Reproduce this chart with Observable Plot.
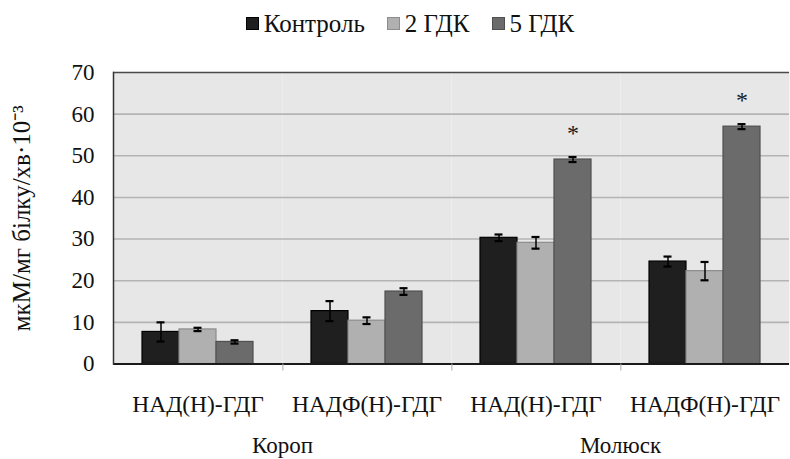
<!DOCTYPE html>
<html><head><meta charset="utf-8">
<script src="https://cdn.jsdelivr.net/npm/d3@7"></script>
<script src="https://cdn.jsdelivr.net/npm/@observablehq/plot@0.6"></script>
<style>
body{margin:0;background:#fff;font-family:"Liberation Serif","Times New Roman",serif;color:#111;}
#legend{height:45px;display:flex;justify-content:center;align-items:center;gap:22px;font-size:25px;padding-left:30px;box-sizing:border-box;padding-top:2px;}
#legend span{display:inline-flex;align-items:center;}
.sw{display:inline-block;width:11px;height:11px;margin-right:5px;border:1px solid;}
svg text{font-family:"Liberation Serif","Times New Roman",serif;}
</style></head><body><div id="legend"></div><div id="chart"></div>
<script>
// ---- data ----
const groups = ["Короп", "Короп", "Молюск", "Молюск"];
const enzymes = ["НАД(Н)-ГДГ", "НАДФ(Н)-ГДГ", "НАД(Н)-ГДГ", "НАДФ(Н)-ГДГ"];
const series = ["Контроль", "2 ГДК", "5 ГДК"];
const control = [7.7, 12.7, 30.3, 24.6];
const gdk2 = [8.3, 10.4, 29.1, 22.3];
const gdk5 = [5.3, 17.4, 49.1, 57.0];
const errControl = [2.3, 2.4, 0.8, 1.2];
const errGdk2 = [0.4, 0.8, 1.4, 2.2];
const errGdk5 = [0.4, 0.8, 0.6, 0.6];
const starred = [false, false, true, true]; // "*" above 5 ГДК
const yTicks = [0, 10, 20, 30, 40, 50, 60, 70];
const yLabel = "мкМ/мг білку/хв·10⁻³";

const colors = ["#1f1f1f", "#b0b0b0", "#6b6b6b"];
const borders = ["#000000", "#8c8c8c", "#4f4f4f"];

// ---- tables ----
const keys = enzymes.map((e, i) => groups[i] + " · " + e + " · " + i);
const values = [control, gdk2, gdk5];
const errs = [errControl, errGdk2, errGdk5];
const rows = keys.flatMap((k, i) => series.map((s, j) => ({
  cat: k, series: s, value: values[j][i], err: errs[j][i]
})));
const stars = rows.filter(d => d.series === "5 ГДК" && starred[keys.indexOf(d.cat)]);
const groupLabels = [];
groups.forEach((g, i) => { if (i === groups.indexOf(g)) groupLabels.push({cat: keys[i], label: g}); });
const enzymeOf = Object.fromEntries(keys.map((k, i) => [k, enzymes[i]]));
const boundaries = keys.slice(0, -1).map(k => ({cat: k}));

// ---- legend ----
const leg = document.getElementById("legend");
series.forEach((s, j) => {
  const sp = document.createElement("span");
  sp.innerHTML = `<i class="sw" style="background:${colors[j]};border-color:${borders[j]}"></i>${s}`;
  leg.appendChild(sp);
});

// ---- chart ----
const FONT = '"Liberation Serif", "Times New Roman", serif';
const W = 790, H = 414, mT = 27, mB = 95.5, mL = 111, mR = 0;
const facetHalf = (W - mL - mR) / keys.length / 2;
const chart = Plot.plot({
  width: W, height: H,
  marginTop: mT, marginBottom: mB, marginLeft: mL, marginRight: mR,
  style: {fontFamily: FONT, fontSize: "23px", color: "#111", background: "#fff"},
  fx: {domain: keys, padding: 0, label: null, axis: null},
  x: {domain: series, paddingInner: 0, paddingOuter: 0.74, axis: null},
  y: {domain: [0, 70], label: null},
  color: {domain: series, range: colors},
  marks: [
    Plot.frame({fill: "#e7e7e7"}),
    Plot.gridY({ticks: yTicks.slice(1, -1), stroke: "#b4b4b4", strokeOpacity: 1, strokeWidth: 1.6}),
    Plot.ruleY([70], {stroke: "#4a4a4a", strokeWidth: 1.5}),
    Plot.barY(rows, {fx: "cat", x: "series", y: "value", fill: "series",
      stroke: d => borders[series.indexOf(d.series)], strokeWidth: 1.2}),
    Plot.ruleX(rows, {fx: "cat", x: "series", y1: d => d.value - d.err, y2: d => d.value + d.err,
      stroke: "#000", strokeWidth: 1.5}),
    Plot.tickY(rows, {fx: "cat", x: "series", y: d => d.value + d.err, stroke: "#000", strokeWidth: 2.2,
      insetLeft: 14.5, insetRight: 14.5}),
    Plot.tickY(rows, {fx: "cat", x: "series", y: d => d.value - d.err, stroke: "#000", strokeWidth: 2.2,
      insetLeft: 14.5, insetRight: 14.5}),
    Plot.text(stars, {fx: "cat", x: "series", y: d => d.value + d.err, text: () => "*",
      dy: -24, fontSize: 24, fill: "#1a1a1a"}),
    Plot.ruleY([0], {stroke: "#1a1a1a", strokeWidth: 2}),
    Plot.frame({anchor: "left", facetAnchor: "left", stroke: "#333", strokeWidth: 1.5}),
    Plot.ruleX(boundaries, {fx: "cat", x: null, dx: facetHalf, insetTop: H - mT - mB, insetBottom: -7,
      stroke: "#aaa", strokeWidth: 1}),
    Plot.axisY({ticks: yTicks, tickSize: 0, tickPadding: 19, label: null, fontSize: 23}),
    Plot.axisY({ticks: [], label: yLabel, labelArrow: "none",
      labelAnchor: "center", labelOffset: 101, fontSize: 25}),
    Plot.axisFx({anchor: "bottom", tickSize: 0, tickPadding: 31, tickFormat: k => enzymeOf[k], label: null, fontSize: 23.5}),
    Plot.text(groupLabels, {fx: "cat", text: "label", frameAnchor: "bottom-right", textAnchor: "middle",
      lineAnchor: "middle", dy: 82, fontSize: 23, fill: "#111"})
  ]
});
document.getElementById("chart").appendChild(chart);
</script></body></html>
